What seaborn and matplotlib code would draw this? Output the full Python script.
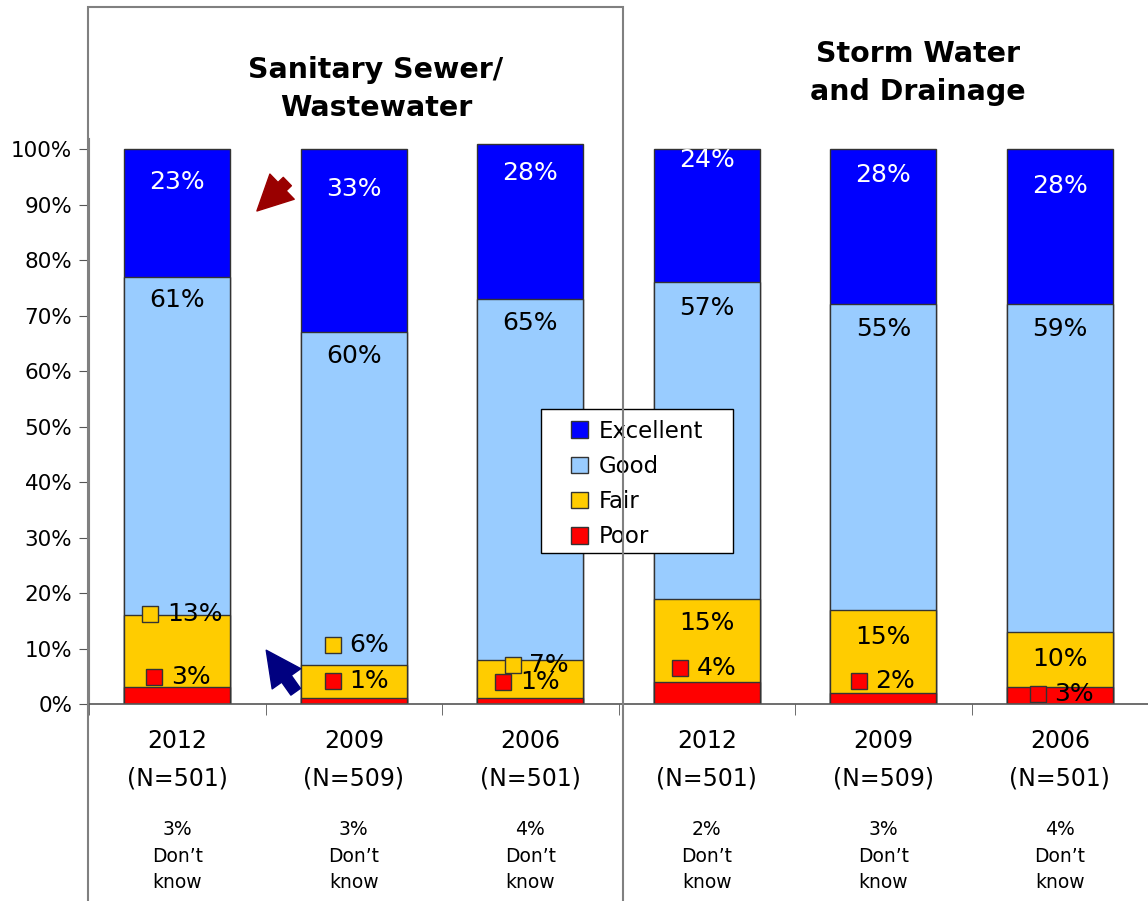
import matplotlib.pyplot as plt
import matplotlib.transforms as mtransforms
from matplotlib.patches import Patch, Rectangle
import numpy as np
import pandas as pd
import seaborn as sns

# data
bar_ids = ['S2012', 'S2009', 'S2006', 'W2012', 'W2009', 'W2006']
years = ['2012', '2009', '2006', '2012', '2009', '2006']
sizes = ['501', '509', '501', '501', '509', '501']
dont_know = ['3%', '3%', '4%', '2%', '3%', '4%']
ratings = ['Excellent', 'Good', 'Fair', 'Poor']
poor = [3, 1, 1, 4, 2, 3]
fair = [13, 6, 7, 15, 15, 10]
good = [61, 60, 65, 57, 55, 59]
excellent = [23, 33, 28, 24, 28, 28]

colors = {'Excellent': '#0000FF', 'Good': '#99CCFF', 'Fair': '#FFCC00', 'Poor': '#FF0000'}

# where the value labels sit (in % units), copied from the original layout
label_y = {
    'Excellent': [94.1, 92.8, 95.7, 98.0, 95.3, 93.3],
    'Good': [72.8, 62.7, 68.6, 71.4, 67.6, 67.6],
    'Fair': [16.2, 10.6, 7.0, 14.6, 12.1, 8.1],
    'Poor': [4.9, 4.1, 4.0, 6.5, 4.1, 1.8],
}
# labels with a legend key beside them: x offset of the key from the bar centre
key_dx = {
    'Excellent': [None] * 6,
    'Good': [None] * 6,
    'Fair': [-0.153, -0.119, -0.10, None, None, None],
    'Poor': [-0.13, -0.119, -0.153, -0.153, -0.14, -0.125],
}

df = pd.DataFrame({'bar': bar_ids, 'Poor': poor, 'Fair': fair,
                   'Good': good, 'Excellent': excellent})
df['top_Poor'] = df['Poor']
df['top_Fair'] = df['top_Poor'] + df['Fair']
df['top_Good'] = df['top_Fair'] + df['Good']
df['top_Excellent'] = df['top_Good'] + df['Excellent']

sns.set_style('white')
plt.rcParams['font.family'] = ['DejaVu Sans']
plt.rcParams['text.color'] = 'black'
plt.rcParams['xtick.color'] = 'black'
plt.rcParams['ytick.color'] = 'black'

W, H = 1148, 901
fig = plt.figure(figsize=(W / 100, H / 100), dpi=100)
ax = fig.add_axes([89 / W, 1 - 704 / H, 1 - 89 / W, 566 / H])

edge = '#333333'
for r in ratings:
    sns.barplot(data=df, x='bar', y='top_' + r, order=bar_ids, color=colors[r],
                width=0.6, edgecolor=edge, linewidth=1, saturation=1,
                errorbar=None, ax=ax)

ax.set_ylim(0, 102)
ax.set_xlim(-0.5, 5.5)
ax.set_xlabel('')
ax.set_ylabel('')
ax.set_yticks(range(0, 101, 10))
ax.set_yticklabels([f'{v}%' for v in range(0, 101, 10)], fontsize=15.5)
ax.set_xticks([])
ax.set_xticks(np.arange(-0.5, 6, 1), minor=True)
ax.tick_params(axis='y', length=7, color='#555555', direction='out', left=True, pad=5)
ax.tick_params(axis='x', which='minor', length=8, color='#555555', direction='out', bottom=True)
for s in ['top', 'right']:
    ax.spines[s].set_visible(False)
ax.spines['left'].set_color('#808080')
ax.spines['bottom'].set_color('#555555')
ax.spines['bottom'].set_linewidth(1.2)

# value labels
vals = {'Excellent': excellent, 'Good': good, 'Fair': fair, 'Poor': poor}
for r in ratings:
    for i in range(len(bar_ids)):
        y = label_y[r][i]
        txt = f'{vals[r][i]}%'
        dx = key_dx[r][i]
        if dx is not None:
            ax.plot(i + dx, y, marker='s', markersize=12, mfc=colors[r],
                    mec=edge, mew=1, clip_on=False)
            ax.text(i + dx + 0.095, y, txt, ha='left', va='center', fontsize=18)
        else:
            color = 'white' if r == 'Excellent' else 'black'
            ax.text(i, y, txt, ha='center', va='center', fontsize=18, color=color)

# category labels below the axis
trans = mtransforms.blended_transform_factory(ax.transData, fig.transFigure)
for i in range(len(bar_ids)):
    ax.text(i, 1 - 760 / H, f'{years[i]}\n(N={sizes[i]})', ha='center', va='center',
            fontsize=17, linespacing=1.7, transform=trans)
    ax.text(i, 1 - 856 / H, f'{dont_know[i]}\nDon\u2019t\nknow', ha='center', va='center',
            fontsize=13.5, linespacing=1.5, transform=trans)

# group titles
fig.text(376 / W, 1 - 89 / H, 'Sanitary Sewer/\nWastewater', ha='center', va='center',
         fontsize=20.5, fontweight='bold', linespacing=1.45)
fig.text(918 / W, 1 - 73 / H, 'Storm Water\nand Drainage', ha='center', va='center',
         fontsize=20.5, fontweight='bold', linespacing=1.5)

# box around the first group
fig.add_artist(Rectangle((88 / W, -0.05), (623 - 88) / W, 1.05 - 7 / H,
                         transform=fig.transFigure, fill=False,
                         edgecolor='#808080', linewidth=1.5, clip_on=False))

# arrows
ax.annotate('', xy=(0.44, 88.5), xytext=(0.635, 94.5),
            arrowprops=dict(arrowstyle='simple,head_length=0.9,head_width=0.9,tail_width=0.3',
                            color='#990000', mutation_scale=28))
ax.annotate('', xy=(0.495, 10.1), xytext=(0.68, 1.8),
            arrowprops=dict(arrowstyle='simple,head_length=0.9,head_width=0.9,tail_width=0.3',
                            color='#000080', mutation_scale=28))

# legend with a separate frame so the padding matches the original
ax.add_patch(Rectangle((541 / W, 1 - 553 / H), 192 / W, 144 / H,
                       transform=fig.transFigure, facecolor='white',
                       edgecolor='black', linewidth=1, zorder=4.5, clip_on=False))
handles = [Patch(facecolor=colors[r], edgecolor=edge, label=r) for r in ratings]
leg = ax.legend(handles=handles, loc='center', bbox_to_anchor=(637 / W, 1 - 484 / H),
                bbox_transform=fig.transFigure, fontsize=16.5, frameon=False,
                handlelength=0.75, handleheight=0.75, borderpad=0.3,
                labelspacing=0.53, handletextpad=0.45)
leg.set_zorder(5)

fig.savefig('out.png', dpi=100)
